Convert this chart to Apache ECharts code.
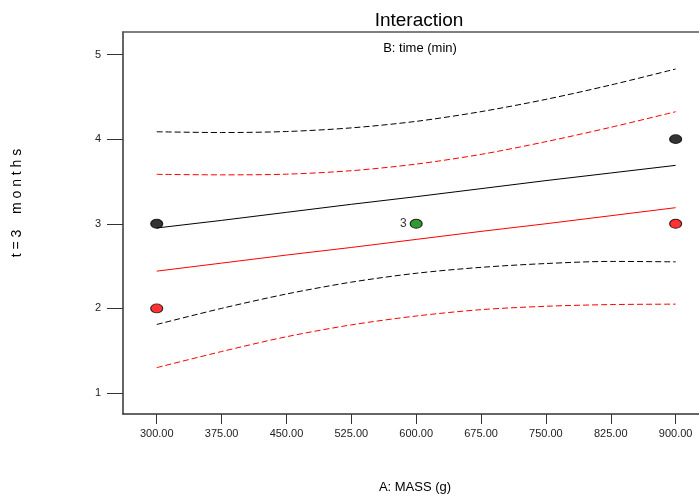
<!DOCTYPE html>
<html>
<head>
<meta charset="utf-8">
<script src="https://cdn.jsdelivr.net/npm/echarts@6/dist/echarts.min.js"></script>
<style>
html,body{margin:0;padding:0;background:#fff;}
#c{width:699px;height:500px;}
</style>
</head>
<body>
<div id="c"></div>
<script>
// ---- data ----
const xTicks = [300, 375, 450, 525, 600, 675, 750, 825, 900];
const yTicks = [1, 2, 3, 4, 5];
const lineX = [300, 375, 450, 525, 600, 675, 750, 825, 900];
const blackFit = [2.95, 3.04, 3.135, 3.23, 3.32, 3.415, 3.51, 3.60, 3.69];
const redFit = [2.44, 2.535, 2.63, 2.72, 2.815, 2.91, 3.0, 3.095, 3.19];
const blackUpper = [4.087, 4.078, 4.09, 4.133, 4.21, 4.325, 4.47, 4.64, 4.829];
const blackLower = [1.81, 2.0, 2.17, 2.31, 2.415, 2.485, 2.53, 2.555, 2.55];
const redUpper = [3.584, 3.578, 3.586, 3.627, 3.705, 3.82, 3.97, 4.14, 4.324];
const redLower = [1.30, 1.49, 1.665, 1.805, 1.91, 1.985, 2.025, 2.045, 2.05];
const blackPoints = [[300, 3], [900, 4]];
const redPoints = [[300, 2], [900, 3]];
const greenPoints = [[600, 3]];
const greenLabel = '3';
const titleText = 'Interaction';
const subtitleText = 'B: time (min)';
const xName = 'A: MASS (g)';
const yName = 't = 3    m o n t h s';

const pairs = (ys) => lineX.map((x, i) => [x, ys[i]]);

const chart = echarts.init(document.getElementById('c'), null, {renderer: 'canvas'});
const font = 'Liberation Sans, Arial, sans-serif';
const lineSeries = (ys, color, dashed) => ({
  type: 'line', data: pairs(ys), symbol: 'none', smooth: dashed ? 0.3 : false,
  lineStyle: {color: color, width: 1, type: dashed ? [6, 3] : 'solid'},
  silent: true, z: 2
});
chart.setOption({
  animation: false,
  backgroundColor: '#fff',
  title: [
    {text: titleText, left: 414, top: 6, textAlign: 'center',
     textStyle: {fontFamily: font, fontSize: 19, fontWeight: 'normal', color: '#000'}},
    {text: subtitleText, left: 415, top: 37, textAlign: 'center',
     textStyle: {fontFamily: font, fontSize: 13, fontWeight: 'normal', color: '#000'}}
  ],
  grid: {left: 123, top: 32, right: 0, bottom: 86},
  xAxis: [{
    type: 'value', min: 261, max: 927,
    axisLine: {show: true, lineStyle: {color: '#333', width: 1.5}},
    axisTick: {show: true, customValues: xTicks, length: 10, lineStyle: {color: '#333'}},
    axisLabel: {customValues: xTicks, margin: 14, fontFamily: font, fontSize: 11, color: '#222',
      formatter: v => v.toFixed(2)},
    splitLine: {show: false}
  }, {
    type: 'value', position: 'top', min: 261, max: 927,
    axisLine: {show: true, lineStyle: {color: '#555', width: 1.5}},
    axisTick: {show: false}, axisLabel: {show: false}, splitLine: {show: false}
  }],
  yAxis: {
    type: 'value', min: 0.752, max: 5.266,
    axisLine: {show: true, lineStyle: {color: '#333', width: 1.5}},
    axisTick: {show: true, customValues: yTicks, length: 16, lineStyle: {color: '#333'}},
    axisLabel: {customValues: yTicks, margin: 22, fontFamily: font, fontSize: 11, color: '#222'},
    splitLine: {show: false}
  },
  graphic: [
    {type: 'text', x: 17, y: 203, rotation: Math.PI / 2,
     style: {text: yName, font: '14px ' + font, fill: '#000', align: 'center', verticalAlign: 'middle'}, z: 10},
    {type: 'text', x: 415, y: 487,
     style: {text: xName, font: '13px ' + font, fill: '#000', align: 'center', verticalAlign: 'middle'}, z: 10}
  ],
  series: [
    lineSeries(blackUpper, '#000', true),
    lineSeries(blackLower, '#000', true),
    lineSeries(redUpper, '#ff0000', true),
    lineSeries(redLower, '#ff0000', true),
    lineSeries(blackFit, '#000', false),
    lineSeries(redFit, '#ff0000', false),
    {type: 'scatter', data: blackPoints, symbol: 'circle', symbolSize: [12, 9],
     itemStyle: {color: '#000', borderColor: '#000', borderWidth: 1}, z: 5},
    {type: 'scatter', data: redPoints, symbol: 'circle', symbolSize: [12, 9],
     itemStyle: {color: '#ff0000', borderColor: '#000', borderWidth: 1}, z: 5},
    {type: 'scatter', data: greenPoints, symbol: 'circle', symbolSize: [12, 9],
     itemStyle: {color: '#008000', borderColor: '#000', borderWidth: 1}, z: 5,
     label: {show: true, position: 'left', distance: 3, formatter: greenLabel,
       fontFamily: font, fontSize: 12, color: '#000'}}
  ]
});
</script>
</body>
</html>
